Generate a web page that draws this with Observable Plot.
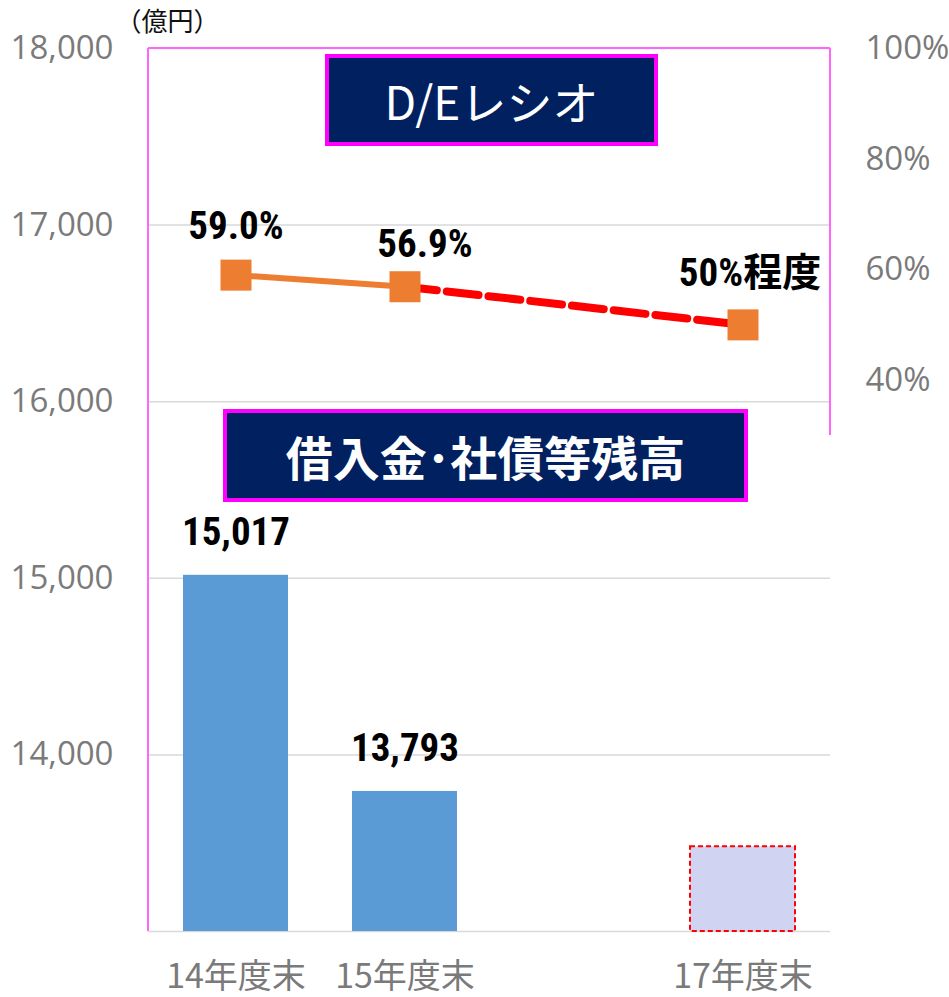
<!DOCTYPE html>
<html>
<head>
<meta charset="utf-8">
<script src="https://cdn.jsdelivr.net/npm/d3@7"></script>
<script src="https://cdn.jsdelivr.net/npm/@observablehq/plot@0.6"></script>
<style>
  body { margin: 0; background: #ffffff; }
  #wrap { position: relative; width: 949px; height: 997px; overflow: hidden; }
  .box { position: absolute; box-sizing: border-box; background: #002060; border: 4px solid #FF00FF;
         color: #ffffff; display: flex; align-items: center; justify-content: center;
         font-family: "Noto Sans CJK JP", sans-serif; white-space: nowrap; }
</style>
</head>
<body>
<div id="wrap"></div>
<script>
// ---- data ----
const categories = ["14年度末", "15年度末", "", "17年度末"];
const barYears = ["14年度末", "15年度末", "17年度末"];
const debtValues = [15017, 13793, 13480];
const debtLabels = ["15,017", "13,793", ""];
const deYears = ["14年度末", "15年度末", "17年度末"];
const deRatio = [59.0, 56.9, 50.0];
const deLabels = ["59.0%", "56.9%", "50%程度"];
const leftTicks = [14000, 15000, 16000, 17000, 18000];
const rightTicks = [40, 60, 80, 100];
const yMin = 13000, yMax = 18000;
const rightAxisEnd = 30;
const unitLabel = "（億円）";
const titleRatio = "D/Eレシオ";
const titleDebt = "借入金･社債等残高";

// right (percent) axis mapped onto the left value axis
const pctToLeft = d3.scaleLinear().domain([0, 100]).range([18000 - 100 * 31.3, 18000]);

const bars = barYears.map((c, i) => ({cat: c, value: debtValues[i], label: debtLabels[i], forecast: i === 2}));
const de = deYears.map((c, i) => ({cat: c, pct: deRatio[i], v: pctToLeft(deRatio[i]), label: deLabels[i]}));
const labelShift = [{dx: 0, dy: -49}, {dx: 20, dy: -42}, {dx: 7, dy: -51}];

const labelFont = "'Liberation Sans Narrow', 'Roboto Condensed', Roboto, 'Noto Sans CJK JP', sans-serif";

function pinkFrame(index, scales, values, dims) {
  const x0 = dims.marginLeft, x1 = dims.width - dims.marginRight;
  const yTop = scales.y(yMax), yBot = scales.y(yMin), yR = scales.y(pctToLeft(rightAxisEnd));
  const g = d3.create("svg:g").attr("stroke", "#FF66FF").attr("stroke-width", 2).attr("fill", "none");
  g.append("line").attr("x1", x0).attr("x2", x0).attr("y1", yTop).attr("y2", yBot);
  g.append("line").attr("x1", x0).attr("x2", x1).attr("y1", yTop).attr("y2", yTop);
  g.append("line").attr("x1", x1).attr("x2", x1).attr("y1", yTop).attr("y2", yR);
  return g.node();
}

const chart = Plot.plot({
  width: 949,
  height: 997,
  marginLeft: 148,
  marginRight: 119,
  marginTop: 48,
  marginBottom: 66,
  style: {fontFamily: "'Open Sans', sans-serif", background: "#ffffff"},
  x: {domain: categories, paddingInner: 0.376, paddingOuter: 0.194, label: null},
  y: {domain: [yMin, yMax], label: null},
  marks: [
    Plot.gridY(leftTicks, {stroke: "#D9D9D9", strokeOpacity: 1, strokeWidth: 1.5}),
    Plot.ruleY([yMin], {stroke: "#D9D9D9", strokeWidth: 1.5}),
    Plot.barY(bars.filter(d => !d.forecast), {x: "cat", y1: yMin, y2: "value", fill: "#5B9BD5"}),
    Plot.barY(bars.filter(d => d.forecast), {x: "cat", y1: yMin, y2: "value", fill: "#D1D3F2",
      stroke: "#FF0000", strokeWidth: 2, strokeDasharray: "5,3"}),
    Plot.text(bars.filter(d => d.label), {x: "cat", y: "value", text: "label", dy: -43,
      fontSize: 39, fontWeight: "bold", fill: "#000", fontFamily: labelFont}),
    pinkFrame,
    Plot.line(de.slice(1), {x: "cat", y: "v", stroke: "#FF0000", strokeWidth: 8, strokeDasharray: "32,10"}),
    Plot.line(de.slice(0, 2), {x: "cat", y: "v", stroke: "#ED7D31", strokeWidth: 6}),
    Plot.dot(de, {x: "cat", y: "v", symbol: "square", r: 17.5, fill: "#ED7D31", stroke: null}),
    ...de.map((d, i) => Plot.text([d], {x: "cat", y: "v", text: "label", dx: labelShift[i].dx, dy: labelShift[i].dy,
      fontSize: 39, fontWeight: "bold", fill: "#000", fontFamily: labelFont})),
    Plot.axisY(leftTicks, {anchor: "left", tickSize: 0, tickPadding: 35, tickFormat: d3.format(","),
      fontSize: 33, color: "#7a7a7a", label: null}),
    Plot.axisY(rightTicks.map(p => pctToLeft(p)), {anchor: "right", tickSize: 0, tickPadding: 35,
      tickFormat: v => Math.round(pctToLeft.invert(v)) + "%", fontSize: 33, color: "#7a7a7a", label: null}),
    Plot.axisX({tickSize: 0, tickPadding: 32, fontSize: 34, fontFamily: "'Noto Sans CJK JP', sans-serif",
      color: "#7a7a7a", label: null}),
    Plot.text([unitLabel], {frameAnchor: "top-left", dx: -33, dy: -26, fontSize: 26, lineAnchor: "middle",
      fontFamily: "'Noto Sans CJK JP', sans-serif", fill: "#111"})
  ]
});

const wrap = document.getElementById("wrap");
wrap.appendChild(chart);

const b1 = document.createElement("div");
b1.className = "box";
b1.style.cssText = "left:325px;top:54px;width:333px;height:92px;font-size:46px;font-weight:400;";
b1.textContent = titleRatio;
wrap.appendChild(b1);

const b2 = document.createElement("div");
b2.className = "box";
b2.style.cssText = "left:223px;top:409px;width:525px;height:93px;font-size:47px;font-weight:700;";
b2.textContent = titleDebt;
wrap.appendChild(b2);
</script>
</body>
</html>
